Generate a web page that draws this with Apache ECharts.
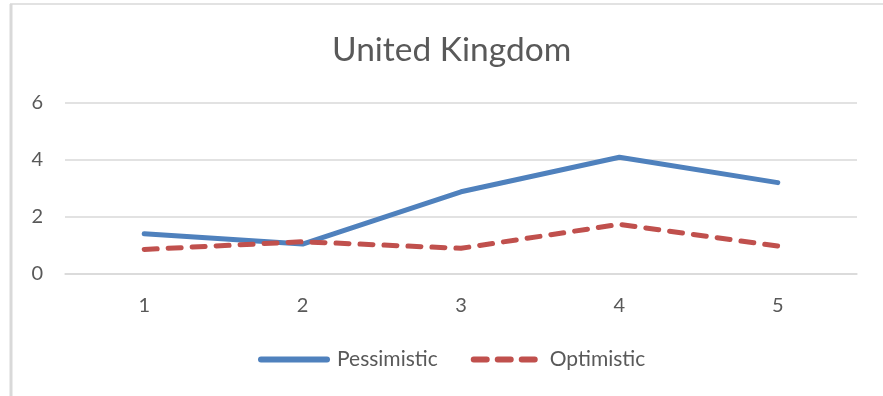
<!DOCTYPE html>
<html>
<head>
<meta charset="utf-8">
<script src="https://cdn.jsdelivr.net/npm/echarts@6/dist/echarts.min.js"></script>
<style>
  html, body { margin: 0; padding: 0; background: #fff; }
  #chart { width: 883px; height: 396px; }
</style>
</head>
<body>
<div id="chart"></div>
<script>
// data
const categories = ['1', '2', '3', '4', '5'];
const pessimistic = [1.41, 1.05, 2.88, 4.09, 3.2];
const optimistic = [0.86, 1.13, 0.9, 1.74, 0.98];

const textColor = '#595959';
const gridColor = '#D9D9D9';
const font = 'Lato, Carlito, Calibri, sans-serif';

const chart = echarts.init(document.getElementById('chart'));

chart.setOption({
    animation: false,
    textStyle: { fontFamily: font },
    title: {
        text: 'United Kingdom',
        left: 327,
        top: 28,
        textStyle: { fontFamily: font, fontSize: 33.5, fontWeight: 'normal', color: textColor }
    },
    graphic: [
        // frame edges of the chart area
        { type: 'line', shape: { x1: 11, y1: 4, x2: 11, y2: 396 }, style: { stroke: gridColor, lineWidth: 3 } },
        { type: 'line', shape: { x1: 10, y1: 4, x2: 883, y2: 4 }, style: { stroke: gridColor, lineWidth: 1.5 } }
    ],
    legend: {
        bottom: 21,
        left: 253,
        itemWidth: 66,
        itemHeight: 14,
        itemGap: 33,
        textStyle: { fontFamily: font, fontSize: 21, color: textColor, padding: [0, 0, 0, 5] },
        itemStyle: { opacity: 0 },
        lineStyle: { width: 6, cap: 'round' },
        data: ['Pessimistic', 'Optimistic']
    },
    grid: { left: 65, right: 26, top: 102.7, bottom: 122 },
    xAxis: {
        type: 'category',
        data: categories,
        boundaryGap: true,
        axisLine: { lineStyle: { color: gridColor, width: 1.5 } },
        axisTick: { show: false },
        axisLabel: { color: textColor, fontSize: 20, margin: 22, fontFamily: font }
    },
    yAxis: {
        type: 'value',
        min: 0,
        max: 6,
        interval: 2,
        axisLine: { show: false },
        axisTick: { show: false },
        axisLabel: { color: textColor, fontSize: 20, margin: 22, fontFamily: font },
        splitLine: { lineStyle: { color: gridColor, width: 1.5 } }
    },
    series: [
        {
            name: 'Pessimistic',
            type: 'line',
            data: pessimistic,
            showSymbol: false,
            symbol: 'none',
            color: '#4F81BD',
            lineStyle: { width: 5, color: '#4F81BD', cap: 'round', join: 'round' }
        },
        {
            name: 'Optimistic',
            type: 'line',
            data: optimistic,
            showSymbol: false,
            symbol: 'none',
            color: '#C0504D',
            lineStyle: { width: 5, color: '#C0504D', type: [13, 11], cap: 'round', join: 'round' }
        }
    ]
});
</script>
</body>
</html>
